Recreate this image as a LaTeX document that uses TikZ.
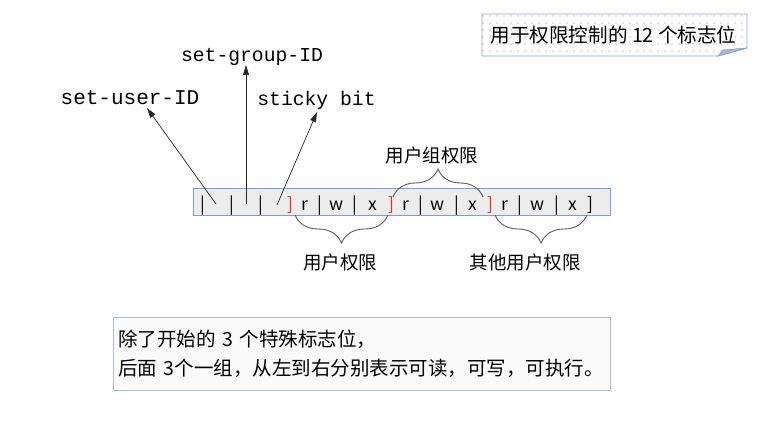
\documentclass[tikz,border=0pt]{standalone}
\usepackage{fontspec}
\setmainfont{Noto Sans CJK SC}
\newfontfamily\monof{Liberation Mono}
\usetikzlibrary{arrows.meta,decorations.pathreplacing,patterns.meta}
\definecolor{barfill}{HTML}{EDEDED}
\definecolor{barline}{HTML}{7F9FCF}
\definecolor{bracecol}{HTML}{5E5670}
\definecolor{redbr}{HTML}{D8322A}
\definecolor{boxline}{HTML}{A9BEDF}
\definecolor{notebd}{HTML}{8FA6C4}
\definecolor{notefold}{HTML}{A9B8CC}
\begin{document}
\begin{tikzpicture}[x=1pt,y=1pt,
  mono/.style={font=\monof\fontsize{19.7}{22}\selectfont, inner sep=0, anchor=base},
  cjk/.style={font=\fontsize{18.5}{22}\selectfont, inner sep=0},
  bch/.style={font=\fontsize{17.5}{20}\selectfont, inner sep=0, anchor=base},
  rbch/.style={bch, text=redbr},
  arr/.style={-{Triangle[length=10pt,width=6pt]}, line width=0.7pt, draw=black!85},
  brc/.style={decorate, decoration={brace, amplitude=28pt}, draw=bracecol, line width=0.9pt},
]
\useasboundingbox (0,0) rectangle (774,-436);

% note with folded corner
\fill[white] (482,-14) -- (747,-14) -- (747,-48) -- (718,-56) -- (482,-56) -- cycle;
\path[pattern={Dots[distance=7pt,radius=0.55pt]}, pattern color=black!45]
  (482,-14) -- (747,-14) -- (747,-48) -- (718,-56) -- (482,-56) -- cycle;
\draw[notebd, line width=0.8pt] (482,-14) -- (747,-14) -- (747,-48) -- (718,-56) -- (482,-56) -- cycle;
\filldraw[fill=notefold, draw=notebd, line width=0.8pt] (718,-56) -- (723,-50) -- (747,-48) -- cycle;
\node[font=\fontsize{19.6}{22}\selectfont, inner sep=0] (note) at (613.5,-35) {用于权限控制的 12 个标志位};

% bar
\node[draw=barline, fill=barfill, line width=0.8pt, minimum width=417, minimum height=27, inner sep=0, anchor=north west] (bar) at (193,-188) {};
\node[bch] (c1) at (203,-210) {|};
\node[bch] (c2) at (232,-210) {|};
\node[bch] (c3) at (261,-210) {|};
\node[rbch] (c4) at (290,-210) {]};
\node[bch] (c5) at (305,-210) {r};
\node[bch] (c6) at (320,-210) {|};
\node[bch] (c7) at (337,-210) {w};
\node[bch] (c8) at (355,-210) {|};
\node[bch] (c9) at (373,-210) {x};
\node[rbch] (c10) at (391,-210) {]};
\node[bch] (c11) at (406,-210) {r};
\node[bch] (c12) at (421,-210) {|};
\node[bch] (c13) at (438,-210) {w};
\node[bch] (c14) at (457,-210) {|};
\node[bch] (c15) at (473,-210) {x};
\node[rbch] (c16) at (490,-210) {]};
\node[bch] (c17) at (505,-210) {r};
\node[bch] (c18) at (520,-210) {|};
\node[bch] (c19) at (538,-210) {w};
\node[bch] (c20) at (557,-210) {|};
\node[bch] (c21) at (573,-210) {x};
\node[bch] (c22) at (590,-210) {]};

% labels and arrows
\node[mono, font=\monof\fontsize{21}{24}\selectfont] (su) at (130,-104) {set-user-ID};
\node[mono] (sg) at (252,-62) {set-group-ID};
\node[mono] (sb) at (316.5,-106) {sticky bit};
\coordinate (p1) at (216,-204);
\coordinate (p2) at (246,-204);
\coordinate (p3) at (277,-205);
\draw[arr] (p1) -- ([shift={(17pt,-4pt)}]su.base);
\draw[arr] (p2) -- ([shift={(-6pt,-3pt)}]sg.base);
\draw[arr] (p3) -- ([shift={(0.5pt,-6pt)}]sb.base);

% braces
\draw[brc] (393,-197) -- (483,-197);
\draw[brc] (388,-215) -- (295,-215);
\draw[brc] (587,-215) -- (495,-215);
\node[cjk] (ug) at (432,-155) {用户组权限};
\node[cjk] (up) at (340,-262) {用户权限};
\node[cjk] (op) at (525,-262) {其他用户权限};

% description box
\node[draw=boxline, fill=black!2, line width=0.8pt, anchor=north west, minimum width=497, minimum height=73, text width=487, inner xsep=5, align=left, font=\fontsize{19.5}{29}\selectfont] (desc) at (113,-317) {除了开始的 3 个特殊标志位，\\后面 3个一组，从左到右分别表示可读，可写，可执行。};
\end{tikzpicture}
\end{document}
